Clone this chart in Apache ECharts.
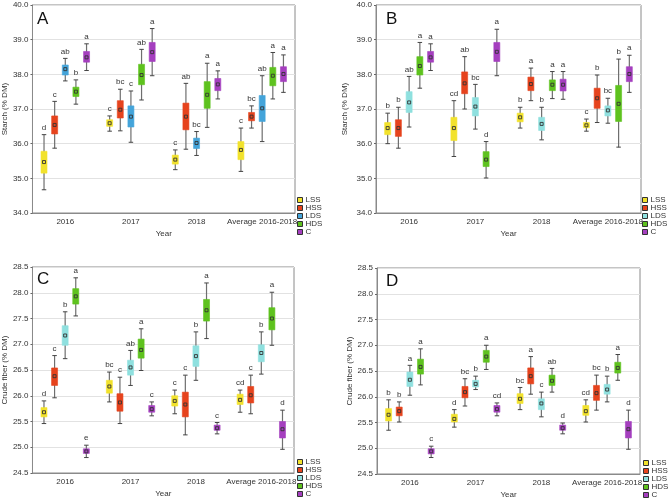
<!DOCTYPE html>
<html><head><meta charset="utf-8">
<script src="https://cdn.jsdelivr.net/npm/echarts@6/dist/echarts.min.js"></script>
<style>html,body{margin:0;padding:0;background:#fff}#c{width:669px;height:500px}</style>
</head><body><div id="c"></div>
<script>
// Categories and treatments
const CATS = ['2016', '2017', '2018', 'Average 2016-2018'];
const TREATMENTS = ['LSS', 'HSS', 'LDS', 'HDS', 'C'];
// each entry per category: [whisker low, box low, mean, box high, whisker high]
// Panel A (Starch)
const A_LSS = [[34.67,35.15,35.47,35.78,36.26],[36.36,36.50,36.59,36.69,36.80],[35.25,35.41,35.54,35.67,35.82],[35.20,35.54,35.82,36.06,36.45]];
const A_HSS = [[35.87,36.28,36.54,36.80,37.22],[36.37,36.74,36.98,37.24,37.57],[35.84,36.40,36.78,37.17,37.74],[36.45,36.66,36.78,36.90,37.09]];
const A_LDS = [[37.81,37.98,38.15,38.27,38.46],[36.04,36.48,36.78,37.09,37.52],[35.66,35.86,36.02,36.16,36.35],[36.06,36.64,37.02,37.39,37.96]];
const A_HDS = [[37.14,37.36,37.50,37.63,37.84],[37.26,37.70,37.98,38.29,38.72],[36.47,37.02,37.41,37.79,38.32],[37.29,37.67,37.96,38.20,38.63]];
const A_C   = [[38.11,38.35,38.49,38.66,38.88],[37.96,38.37,38.64,38.92,39.32],[37.29,37.53,37.71,37.88,38.10],[37.48,37.79,38.01,38.22,38.56]];
const A_SIG_LSS = ['d','c','c','c'], A_SIG_HSS = ['c','bc','ab','bc'], A_SIG_LDS = ['ab','c','bc','ab'], A_SIG_HDS = ['b','ab','a','a'], A_SIG_C = ['a','a','a','a'];
// Panel B (Starch)
const B_LSS = [[36.00,36.26,36.45,36.61,36.88],[35.63,36.09,36.45,36.76,37.24],[36.45,36.63,36.76,36.88,37.05],[36.36,36.46,36.53,36.61,36.71]];
const B_HSS = [[35.87,36.21,36.45,36.69,37.05],[37.00,37.44,37.74,38.07,38.51],[37.24,37.53,37.72,37.92,38.18],[36.61,37.02,37.31,37.60,37.98]];
const B_LDS = [[36.48,36.90,37.19,37.50,37.94],[36.42,36.80,37.07,37.33,37.71],[36.11,36.38,36.57,36.76,37.05],[36.59,36.80,36.96,37.09,37.31]];
const B_HDS = [[37.60,37.98,38.24,38.51,38.92],[35.01,35.34,35.54,35.77,36.06],[37.30,37.53,37.70,37.84,38.08],[35.90,36.64,37.15,37.68,38.44]];
const B_C   = [[38.11,38.35,38.49,38.66,38.88],[37.96,38.37,38.65,38.92,39.30],[37.28,37.52,37.70,37.86,38.08],[37.48,37.79,38.01,38.22,38.55]];
const B_SIG_LSS = ['b','cd','b','c'], B_SIG_HSS = ['b','ab','a','b'], B_SIG_LDS = ['ab','bc','b','bc'], B_SIG_HDS = ['a','d','a','b'], B_SIG_C = ['a','a','a','a'];
// Panel C (Crude fiber)
const C_LSS = [[25.46,25.59,25.68,25.77,25.90],[25.88,26.05,26.18,26.30,26.46],[25.65,25.80,25.90,26.00,26.11],[25.68,25.83,25.92,26.03,26.11]];
const C_HSS = [[25.96,26.20,26.38,26.54,26.78],[25.46,25.70,25.87,26.04,26.36],[25.24,25.59,25.83,26.07,26.40],[25.65,25.86,26.01,26.18,26.40]];
const C_LDS = [[26.72,26.98,27.17,27.36,27.63],[26.20,26.40,26.55,26.69,26.88],[26.30,26.57,26.77,26.97,27.24],[26.42,26.66,26.83,26.99,27.24]];
const C_HDS = [[27.55,27.78,27.93,28.08,28.29],[26.49,26.73,26.89,27.10,27.30],[27.11,27.45,27.66,27.87,28.19],[26.98,27.28,27.50,27.71,28.01]];
const C_C   = [[24.80,24.88,24.92,24.97,25.04],[25.61,25.68,25.74,25.81,25.88],[25.26,25.33,25.37,25.43,25.48],[24.96,25.18,25.35,25.50,25.72]];
const C_SIG_LSS = ['d','bc','c','cd'], C_SIG_HSS = ['c','c','c','c'], C_SIG_LDS = ['b','ab','b','b'], C_SIG_HDS = ['a','a','a','a'], C_SIG_C = ['e','c','c','d'];
// Panel D (Crude fiber)
const D_LSS = [[25.35,25.53,25.65,25.77,25.94],[25.41,25.51,25.57,25.66,25.75],[25.75,25.87,25.96,26.06,26.18],[25.51,25.64,25.72,25.83,25.94]];
const D_HSS = [[25.51,25.63,25.72,25.80,25.90],[25.82,25.98,26.09,26.20,26.35],[26.05,26.25,26.40,26.56,26.78],[25.74,25.93,26.07,26.22,26.42]];
const D_LDS = [[26.03,26.20,26.33,26.48,26.61],[26.14,26.19,26.25,26.32,26.40],[25.61,25.75,25.87,25.96,26.09],[25.90,26.05,26.14,26.24,26.40]];
const D_HDS = [[26.23,26.44,26.58,26.73,26.93],[26.53,26.67,26.78,26.90,27.00],[26.09,26.22,26.31,26.42,26.55],[26.32,26.46,26.56,26.67,26.82]];
const D_C   = [[24.82,24.89,24.94,24.99,25.04],[25.63,25.70,25.76,25.83,25.88],[25.28,25.35,25.39,25.45,25.49],[24.98,25.20,25.37,25.52,25.74]];
const D_SIG_LSS = ['b','d','bc','cd'], D_SIG_HSS = ['b','bc','a','bc'], D_SIG_LDS = ['a','b','c','b'], D_SIG_HDS = ['a','a','ab','a'], D_SIG_C = ['c','cd','d','d'];

const COL = {LSS:'#f2e22c', HSS:'#e6431d', LDS_A:'#44a4da', LDS:'#8fe0df', HDS:'#5ec21e', C:'#a53fbf'};
const FONT = 'Liberation Sans';

const panels = [
  {key:'A', data:[A_LSS,A_HSS,A_LDS,A_HDS,A_C], sig:[A_SIG_LSS,A_SIG_HSS,A_SIG_LDS,A_SIG_HDS,A_SIG_C], ldsCol:COL.LDS_A,
   grid:{left:31, top:5, width:264, height:208}, min:34, max:40, interval:1, yname:'Starch (% DM)', ygap:22,
   legend:{left:297, top:196}, letter:{x:37, y:11}},
  {key:'B', data:[B_LSS,B_HSS,B_LDS,B_HDS,B_C], sig:[B_SIG_LSS,B_SIG_HSS,B_SIG_LDS,B_SIG_HDS,B_SIG_C], ldsCol:COL.LDS,
   grid:{left:376, top:5, width:265, height:208}, min:34, max:40, interval:1, yname:'Starch (% DM)', ygap:27,
   legend:{left:642, top:196}, letter:{x:386, y:11}},
  {key:'C', data:[C_LSS,C_HSS,C_LDS,C_HDS,C_C], sig:[C_SIG_LSS,C_SIG_HSS,C_SIG_LDS,C_SIG_HDS,C_SIG_C], ldsCol:COL.LDS,
   grid:{left:31, top:267, width:263, height:206}, min:24.5, max:28.5, interval:0.5, yname:'Crude fiber (% DM)', ygap:22,
   legend:{left:297, top:458}, letter:{x:37, y:271}},
  {key:'D', data:[D_LSS,D_HSS,D_LDS,D_HDS,D_C], sig:[D_SIG_LSS,D_SIG_HSS,D_SIG_LDS,D_SIG_HDS,D_SIG_C], ldsCol:COL.LDS,
   grid:{left:377, top:268, width:263, height:206}, min:24.5, max:28.5, interval:0.5, yname:'Crude fiber (% DM)', ygap:20,
   legend:{left:643, top:459}, letter:{x:386, y:273}}
];

const option = {animation:false, textStyle:{fontFamily:FONT}, grid:[], xAxis:[], yAxis:[], series:[], legend:[], graphic:[]};

function makeRender(ti, color, sigArr) {
  return function (params, api) {
    const cat = api.value(0);
    const wb = api.value(1), bb = api.value(2), mn = api.value(3), bt = api.value(4), wt = api.value(5);
    const cw = api.size([1, 0])[0];
    const dx = (ti - 2) * cw * 0.162;
    const x = api.coord([cat, mn])[0] + dx;
    const yWt = api.coord([cat, wt])[1], yWb = api.coord([cat, wb])[1];
    const yBt = api.coord([cat, bt])[1], yBb = api.coord([cat, bb])[1], yMn = api.coord([cat, mn])[1];
    const bw = 6, cap = 4.5;
    return {type:'group', children:[
      {type:'line', shape:{x1:x, y1:yWt, x2:x, y2:yWb}, style:{stroke:'#6e6e6e', lineWidth:1.2}},
      {type:'line', shape:{x1:x-cap/2, y1:yWt, x2:x+cap/2, y2:yWt}, style:{stroke:'#444', lineWidth:1}},
      {type:'line', shape:{x1:x-cap/2, y1:yWb, x2:x+cap/2, y2:yWb}, style:{stroke:'#444', lineWidth:1}},
      {type:'rect', shape:{x:x-bw/2, y:yBt, width:bw, height:yBb-yBt}, style:{fill:color, stroke:color, lineWidth:0.6, opacity:1}},
      {type:'rect', shape:{x:x-1.5, y:yMn-1.5, width:3, height:3}, style:{fill:'none', stroke:'#333', lineWidth:0.9}},
      {type:'text', x:x, y:yWt-3, style:{text:sigArr[params.dataIndex], fill:'#333', font:'8px "Liberation Sans"', align:'center', verticalAlign:'bottom'}}
    ]};
  };
}

panels.forEach((p, pi) => {
  option.grid.push(Object.assign({show:true, borderColor:'#8a8a8a', borderWidth:1}, p.grid));
  option.xAxis.push({type:'category', gridIndex:pi, data:CATS, boundaryGap:true,
    name:'Year', nameLocation:'middle', nameGap:17, nameTextStyle:{fontSize:8, color:'#333', fontFamily:FONT},
    axisLine:{lineStyle:{color:'#8a8a8a'}}, axisTick:{alignWithLabel:true, inside:true, length:3, lineStyle:{color:'#666'}},
    axisLabel:{fontSize:8, color:'#333', margin:5, interval:0}, splitLine:{show:false}});
  option.yAxis.push({type:'value', gridIndex:pi, min:p.min, max:p.max, interval:p.interval,
    name:p.yname, nameLocation:'middle', nameGap:p.ygap, nameRotate:90, nameTextStyle:{fontSize:8, color:'#333', fontFamily:FONT},
    axisLine:{show:true, lineStyle:{color:'#8a8a8a'}}, axisTick:{show:true, length:2, lineStyle:{color:'#666'}},
    axisLabel:{fontSize:8, color:'#333', margin:4, formatter:v => v.toFixed(1)},
    splitLine:{show:true, lineStyle:{color:'#e2e2e2', width:1}}});
  const legendData = [];
  TREATMENTS.forEach((t, ti) => {
    const color = t === 'LDS' ? p.ldsCol : COL[t];
    const arr = p.data[ti];
    option.series.push({type:'custom', name:t, xAxisIndex:pi, yAxisIndex:pi,
      itemStyle:{color:color},
      encode:{x:0, y:[1,2,3,4,5]},
      data:arr.map((d, ci) => [ci].concat(d)),
      renderItem:makeRender(ti, color, p.sig[ti])});
    legendData.push({name:t, itemStyle:{color:color, borderColor:'#333', borderWidth:1}});
  });
  option.legend.push({orient:'vertical', left:p.legend.left, top:p.legend.top, width:40, height:44, icon:'rect', itemWidth:5, itemHeight:5,
    itemGap:0, selectedMode:false, data:legendData, textStyle:{fontSize:8, color:'#333', lineHeight:7, padding:[0,0,0,-2]}, padding:0});
  option.graphic.push({type:'text', left:p.letter.x, top:p.letter.y, style:{text:p.key, font:'17px "Liberation Sans"', fill:'#111'}});
});

const chart = echarts.init(document.getElementById('c'), null, {renderer:'canvas'});
chart.setOption(option);
</script></body></html>
